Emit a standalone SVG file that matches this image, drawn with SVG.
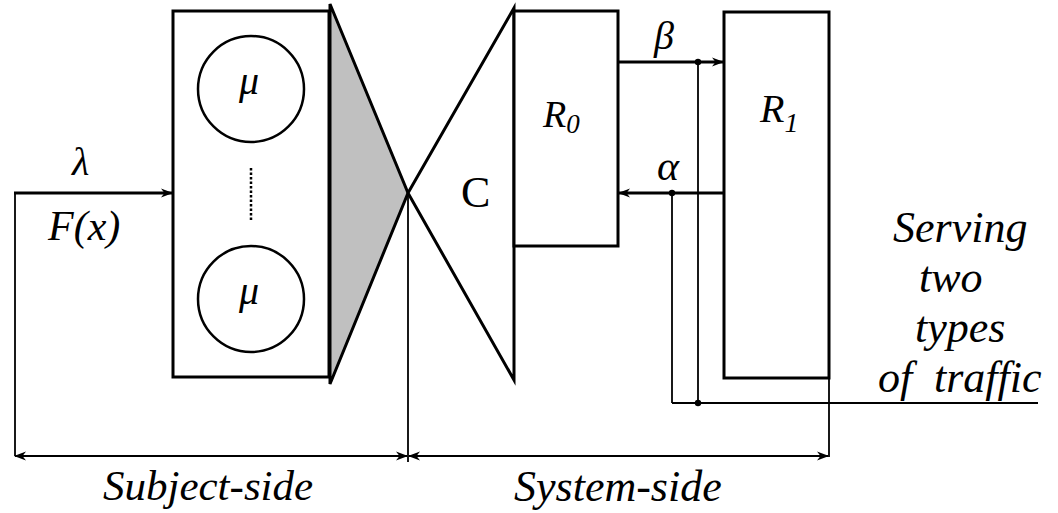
<svg xmlns="http://www.w3.org/2000/svg" width="1058" height="513" viewBox="0 0 1058 513">
<defs>
<style>
.box{fill:#fff;stroke:#000;stroke-width:3}
.thick{fill:none;stroke:#000;stroke-width:3}
.thin{fill:none;stroke:#000;stroke-width:1.8}
</style>
<marker id="ah" viewBox="0 0 12 10" refX="11" refY="5" markerWidth="12" markerHeight="10" markerUnits="userSpaceOnUse" orient="auto-start-reverse">
<path d="M0,0.5 L12,5 L0,9.5 L3.5,5 z" fill="#000"/>
</marker>
</defs>
<rect width="1058" height="513" fill="#fff"/>
<g id="servers">
<rect class="box" x="173" y="11" width="156" height="366"/>
<circle cx="251" cy="89" r="53" fill="#fff" stroke="#000" stroke-width="2.5"/>
<circle cx="251" cy="299" r="53" fill="#fff" stroke="#000" stroke-width="2.5"/>
<line x1="251" y1="168" x2="251" y2="221" stroke="#000" stroke-width="2.5" stroke-dasharray="2.5,2"/>
<text x="239" y="94" font-size="40" font-family="Liberation Serif" font-style="italic">μ</text>
<text x="239" y="304" font-size="40" font-family="Liberation Serif" font-style="italic">μ</text>
</g>
<g id="funnel">
<polygon points="330,4 408,193 330,384" fill="#c0c0c0" stroke="#000" stroke-width="3"/>
</g>
<g id="switch">
<polygon points="408,193 514,8 514,380" fill="#fff" stroke="#000" stroke-width="3"/>
<text x="461" y="207" font-size="44" font-family="Liberation Serif">C</text>
</g>
<g id="R0">
<rect class="box" x="514" y="11" width="104" height="235"/>
<text x="543" y="127" font-size="38" font-family="Liberation Serif" font-style="italic">R<tspan font-size="27" dy="6">0</tspan></text>
</g>
<g id="R1">
<rect class="box" x="760" y="122" width="0" height="0" fill="none"/>
<rect class="box" x="724" y="12" width="105" height="366"/>
<text x="760" y="122" font-size="40" font-family="Liberation Serif" font-style="italic">R<tspan font-size="28" dy="10">1</tspan></text>
</g>
<g id="connectors">
<line class="thick" x1="14" y1="193" x2="172" y2="193" marker-end="url(#ah)"/>
<line class="thin" x1="15" y1="192" x2="15" y2="456"/>
<line class="thick" x1="618" y1="62" x2="723" y2="62" marker-end="url(#ah)"/>
<line class="thick" x1="724" y1="193" x2="619" y2="193" marker-end="url(#ah)"/>
<line class="thin" x1="698" y1="62" x2="698" y2="403"/>
<line class="thin" x1="672" y1="193" x2="672" y2="403"/>
<line class="thin" x1="672" y1="403" x2="1038" y2="403"/>
<circle cx="698" cy="62" r="3.2" fill="#000"/>
<circle cx="672" cy="193" r="3.2" fill="#000"/>
<circle cx="698" cy="403" r="3.2" fill="#000"/>
<line class="thin" x1="408" y1="193" x2="408" y2="462"/>
<line class="thin" x1="829" y1="378" x2="829" y2="457"/>
<line class="thin" x1="15" y1="456" x2="407" y2="456" marker-start="url(#ah)" marker-end="url(#ah)"/>
<line class="thin" x1="409" y1="456" x2="828" y2="456" marker-start="url(#ah)" marker-end="url(#ah)"/>
</g>
<g id="labels">
<text x="72" y="175" font-size="40" font-family="Liberation Serif" font-style="italic">λ</text>
<text x="48" y="240" font-size="42" font-family="Liberation Serif" font-style="italic">F(x)</text>
<text x="654" y="49" font-size="40" font-family="Liberation Serif" font-style="italic">β</text>
<text x="657" y="180" font-size="42" font-family="Liberation Serif" font-style="italic">α</text>
<text x="893" y="242" font-size="44" font-family="Liberation Serif" font-style="italic">Serving</text>
<text x="919" y="292" font-size="44" font-family="Liberation Serif" font-style="italic">two</text>
<text x="915" y="342" font-size="44" font-family="Liberation Serif" font-style="italic">types</text>
<text x="878" y="392" font-size="44" font-family="Liberation Serif" font-style="italic">of <tspan x="934">traffic</tspan></text>
<text x="103" y="500" font-size="43" font-family="Liberation Serif" font-style="italic">Subject-side</text>
<text x="514" y="501" font-size="44" font-family="Liberation Serif" font-style="italic">System-side</text>
</g>
</svg>
